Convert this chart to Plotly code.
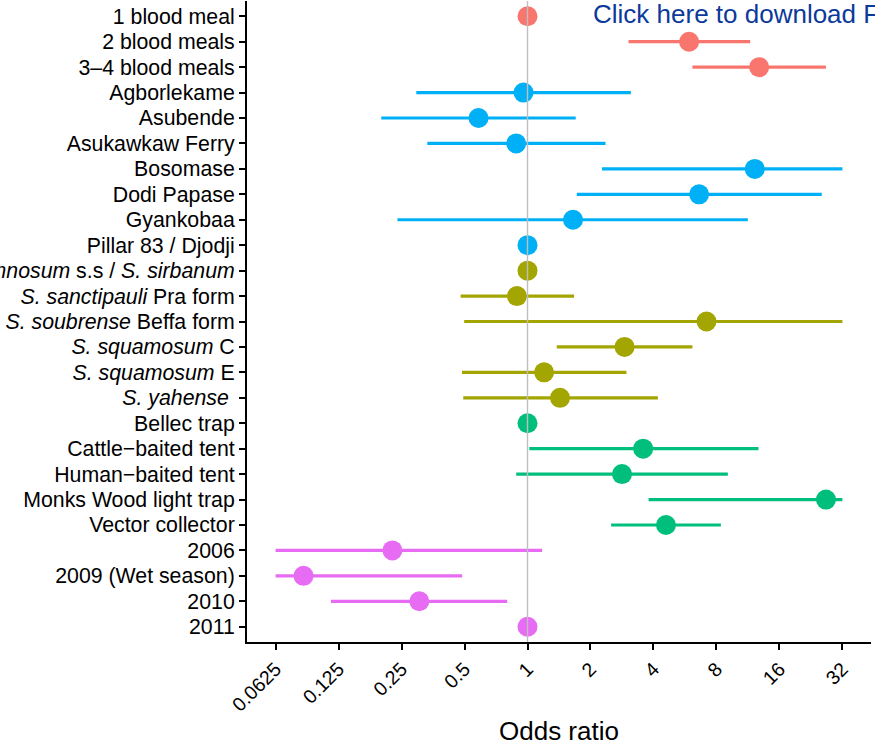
import math
import plotly.graph_objects as go

labels = [
    "1 blood meal", "2 blood meals", "3\u20134 blood meals",
    "Agborlekame", "Asubende", "Asukawkaw Ferry", "Bosomase", "Dodi Papase",
    "Gyankobaa", "Pillar 83 / Djodji",
    "<i>S. damnosum</i> s.s / <i>S. sirbanum</i>", "<i>S. sanctipauli</i> Pra form",
    "<i>S. soubrense</i> Beffa form", "<i>S. squamosum</i> C", "<i>S. squamosum</i> E",
    "<i>S. yahense</i> ",
    "Bellec trap", "Cattle\u2212baited tent", "Human\u2212baited tent",
    "Monks Wood light trap", "Vector collector",
    "2006", "2009 (Wet season)", "2010", "2011",
]
groups = ["blood"] * 3 + ["site"] * 7 + ["species"] * 6 + ["trap"] * 5 + ["year"] * 4
odds = [1, 5.92, 12.8,
        0.957, 0.583, 0.883, 12.2, 6.61, 1.65, 1,
        1, 0.89, 7.17, 2.91, 1.2, 1.43,
        1, 3.57, 2.83, 26.7, 4.59,
        0.226, 0.085, 0.304, 1]
lower = [None, 3.04, 6.14,
         0.294, 0.200, 0.332, 2.27, 1.72, 0.239, None,
         None, 0.479, 0.498, 1.38, 0.486, 0.493,
         None, 1.02, 0.883, 3.79, 2.51,
         0.0625, 0.0625, 0.115, None]
upper = [None, 11.6, 26.7,
         3.12, 1.70, 2.36, 32, 25.5, 11.3, None,
         None, 1.67, 32, 6.14, 2.97, 4.2,
         None, 12.7, 9.07, 32, 8.4,
         1.175, 0.487, 0.8, None]
group_colors = {"blood": "#F8766D", "site": "#00B0F6", "species": "#A3A500",
                "trap": "#00BF7D", "year": "#E76BF3"}
tick_vals = [0.0625, 0.125, 0.25, 0.5, 1, 2, 4, 8, 16, 32]
tick_text = ["0.0625", "0.125", "0.25", "0.5", "1", "2", "4", "8", "16", "32"]

n = len(labels)
ypos = list(range(n))
fig = go.Figure()

for g, col in group_colors.items():
    idx = [i for i in range(n) if groups[i] == g]
    lx, ly = [], []
    for i in idx:
        if lower[i] is not None:
            lx += [lower[i], upper[i], None]
            ly += [ypos[i], ypos[i], None]
    fig.add_trace(go.Scatter(x=lx, y=ly, mode="lines",
                             line=dict(color=col, width=3.2),
                             hoverinfo="skip", showlegend=False))
    fig.add_trace(go.Scatter(x=[odds[i] for i in idx], y=[ypos[i] for i in idx],
                             mode="markers", marker=dict(color=col, size=20),
                             showlegend=False))

# reference line at OR = 1
fig.add_trace(go.Scatter(x=[1, 1], y=[-0.6, n - 1 + 0.6], mode="lines",
                         line=dict(color="#BEBEBE", width=1.4),
                         hoverinfo="skip", showlegend=False))

lo_l = math.log10(2 ** -4.454)
hi_l = math.log10(2 ** 5.454)
font_main = "Liberation Sans, Arial, Helvetica, sans-serif"

fig.update_layout(
    width=875, height=749,
    margin=dict(l=247, r=4, t=1, b=107, autoexpand=False),
    paper_bgcolor="white", plot_bgcolor="white",
    font=dict(family=font_main, color="black", size=21),
    xaxis=dict(type="log", range=[lo_l, hi_l], tickvals=tick_vals, ticktext=tick_text,
               tickangle=-45, ticks="outside", ticklen=6, tickwidth=2, tickcolor="black",
               showline=True, linecolor="black", linewidth=2, showgrid=False,
               zeroline=False, tickfont=dict(size=19.5, color="black"), automargin=False),
    yaxis=dict(range=[n - 1 + 0.6, -0.6], tickvals=ypos, ticktext=labels,
               ticks="outside", ticklen=6, tickwidth=2, tickcolor="black",
               showline=True, linecolor="black", linewidth=2, showgrid=False,
               zeroline=False, tickfont=dict(size=21.3, color="black"), automargin=False),
    annotations=[
        dict(text="Odds ratio", xref="paper", yref="paper", x=0.5, y=-0.139,
             xanchor="center", yanchor="middle", showarrow=False,
             font=dict(size=26, color="black", family=font_main)),
        dict(text="Click here to download Figure", xref="paper", yref="paper",
             x=0.552, y=0.98, xanchor="left", yanchor="middle", showarrow=False,
             font=dict(size=26, color="#0b3a9b", family=font_main)),
    ],
)

fig.write_html("out.html", config={"displayModeBar": False},
               post_script="document.body.style.margin='0px';document.body.style.overflow='hidden';")
